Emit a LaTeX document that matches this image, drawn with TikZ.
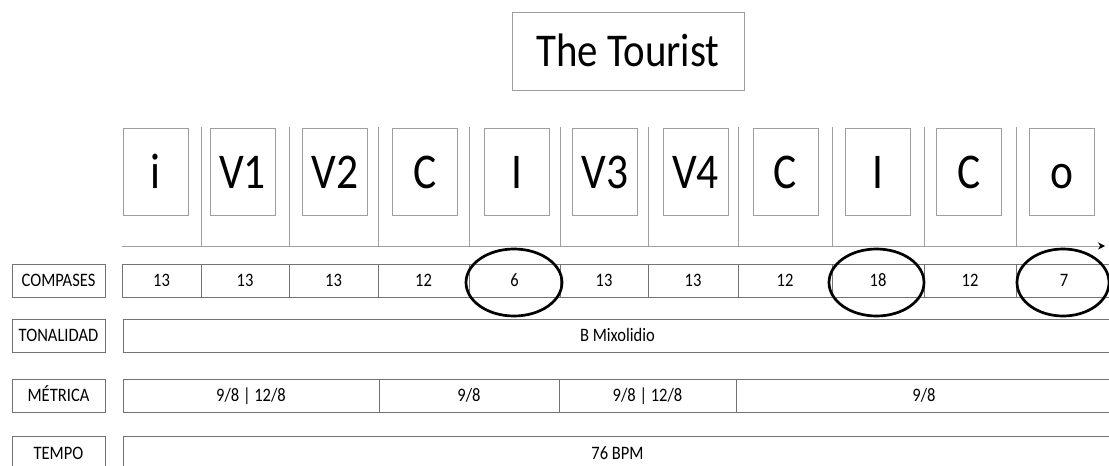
\documentclass[tikz,border=0pt]{standalone}
\usepackage{fontspec}
\setmainfont{Carlito}[FakeStretch=0.87]
\usetikzlibrary{arrows.meta}

\definecolor{boxline}{gray}{0.45}
\definecolor{sepline}{gray}{0.62}
\newcommand{\fTitle}{\fontsize{47}{56}\selectfont}
\newcommand{\fPart}{\fontsize{50}{60}\selectfont}
\newcommand{\fCell}{\fontsize{19}{23}\selectfont}

\begin{document}
\begin{tikzpicture}[x=1pt, y=-1pt, line width=1pt,
    part/.style={draw=sepline, minimum width=65pt, minimum height=87pt, inner sep=0pt,
      text height=32pt, text depth=0pt, font=\fPart},
    cell/.style={draw=boxline, minimum height=33pt, inner sep=0pt,
      text height=12pt, text depth=0pt, font=\fCell},
    rowlabel/.style={cell, minimum width=93pt}]
  \useasboundingbox (0,0) rectangle (1109,466);

  \node[draw=sepline, minimum width=232pt, minimum height=78pt, inner sep=0pt,
    text height=30pt, text depth=0pt, font=\fTitle] (title) at (628,51) {The Tourist};

  \node[part] (p1) at (155.5,172) {i};
  \node[part] (p2) at (242.5,172) {V1};
  \node[part] (p3) at (335,172) {V2};
  \node[part] (p4) at (425,172) {C};
  \node[part] (p5) at (516.5,172) {I};
  \node[part] (p6) at (605,172) {V3};
  \node[part] (p7) at (695.5,172) {V4};
  \node[part] (p8) at (785.5,172) {C};
  \node[part] (p9) at (878,172) {I};
  \node[part] (p10) at (969,172) {C};
  \node[part] (p11) at (1061.5,172) {o};

  \foreach \xs in {201,289,378,469,560,648,738,832,924,1016}
    \draw[sepline] (\xs,127) -- (\xs,246);
  \coordinate (t0) at (122,246);
  \coordinate (t1) at (1105,246);
  \draw[sepline, -{Stealth[length=7pt, width=7pt, color=black]}] (t0) -- (t1);

  \node[rowlabel] (lcomp) at (58.5,280.5) {COMPASES};
  \node[rowlabel] (lton) at (58.5,335.5) {TONALIDAD};
  \node[rowlabel] (lmet) at (58.5,395.5) {MÉTRICA};
  \node[rowlabel, minimum height=34pt] (ltem) at (58.5,453) {TEMPO};

  \node[cell, minimum width=79pt] (c1) at (161.5,280.5) {13};
  \node[cell, minimum width=88pt] (c2) at (245,280.5) {13};
  \node[cell, minimum width=89pt] (c3) at (333.5,280.5) {13};
  \node[cell, minimum width=91pt] (c4) at (423.5,280.5) {12};
  \node[cell, minimum width=91pt] (c5) at (514.5,280.5) {6};
  \node[cell, minimum width=88pt] (c6) at (604,280.5) {13};
  \node[cell, minimum width=90pt] (c7) at (693,280.5) {13};
  \node[cell, minimum width=94pt] (c8) at (785,280.5) {12};
  \node[cell, minimum width=92pt] (c9) at (878,280.5) {18};
  \node[cell, minimum width=92pt] (c10) at (970,280.5) {12};
  \node[cell, minimum width=96pt] (c11) at (1064,280.5) {7};

  \node[cell, minimum width=989pt] (ton) at (617.5,335.5) {B Mixolidio};

  \node[cell, minimum width=256pt] (m1) at (251,395.5) {9/8 | 12/8};
  \node[cell, minimum width=180pt] (m2) at (469,395.5) {9/8};
  \node[cell, minimum width=177pt] (m3) at (647.5,395.5) {9/8 | 12/8};
  \node[cell, minimum width=376pt] (m4) at (924,395.5) {9/8};

  \node[cell, minimum width=989pt, minimum height=34pt] (tem) at (617.5,453) {76 BPM};

  \draw[line width=2.7pt] (514,282.5) ellipse (48 and 33.5);
  \draw[line width=2.7pt] (876.5,282.5) ellipse (47.5 and 33.5);
  \draw[line width=2.7pt] (1063,282.5) ellipse (46 and 33.5);
\end{tikzpicture}
\end{document}
